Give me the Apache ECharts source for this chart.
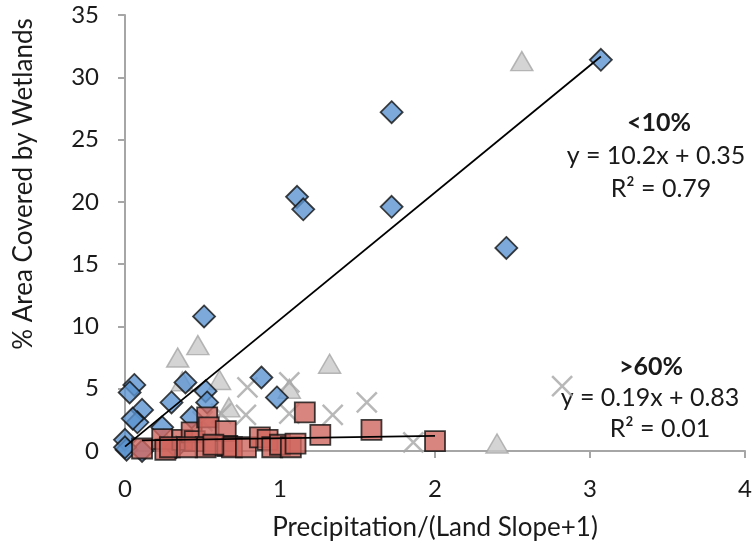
<!DOCTYPE html>
<html>
<head>
<meta charset="utf-8">
<script src="https://cdn.jsdelivr.net/npm/echarts@6/dist/echarts.min.js"></script>
<style>
html,body{margin:0;padding:0;background:#fff;}
#chart{width:755px;height:546px;}
</style>
</head>
<body>
<div id="chart"></div>
<script>
// ---- data ----
var xTicks = [0, 1, 2, 3, 4];
var yTicks = [0, 5, 10, 15, 20, 25, 30, 35];
var xTitle = 'Precipitation/(Land Slope+1)';
var yTitle = '% Area Covered by Wetlands';

// <10% (blue diamonds)
var lowX = [3.07, 1.72, 1.11, 1.15, 1.72, 2.46, 0.51, 0.88, 0.98, 0.39, 0.06, 0.03, 0.52, 0.30, 0.53, 0.11, 0.08, 0.05, 0.43, 0.24, 0.00, 0.01, 0.11, 0.33, 0.00];
var lowY = [31.4, 27.2, 20.4, 19.4, 19.6, 16.3, 10.8, 5.9, 4.3, 5.5, 5.3, 4.7, 4.8, 3.9, 3.9, 3.3, 2.3, 2.6, 2.7, 1.9, 0.9, 0.1, 0.0, 0.3, 0.3];

// >60% (red squares)
var highX = [0.11, 0.24, 0.26, 0.37, 0.43, 0.45, 0.53, 0.54, 0.52, 0.65, 0.66, 0.69, 0.78, 0.87, 0.92, 0.95, 1.00, 1.07, 1.10, 1.16, 1.26, 1.59, 2.00, 0.29, 0.57, 0.40];
var highY = [0.2, 0.95, 0.1, 0.9, 1.5, 0.8, 2.7, 1.9, 0.3, 1.6, 0.4, 0.3, 0.3, 1.1, 0.9, 0.3, 0.5, 0.3, 0.6, 3.1, 1.3, 1.7, 0.8, 0.3, 0.5, 0.3];

// other classes (grey triangles)
var triX = [2.56, 0.47, 0.34, 0.61, 0.67, 1.06, 1.32, 2.40, 0.37, 0.25];
var triY = [31.3, 8.5, 7.5, 5.7, 3.5, 5.0, 7.0, 0.6, 5.6, 1.0];

// other classes (grey crosses)
var crossX = [2.82, 1.86, 1.56, 1.34, 1.06, 0.79, 1.06, 0.78, 0.50, 0.62];
var crossY = [5.2, 0.7, 3.9, 2.9, 5.5, 5.1, 3.0, 2.9, 2.4, 3.0];

// trendline coefficients [slope, intercept]
var lowFit = [10.2, 0.35];
var highFit = [0.19, 0.83];

// labels
var lowLabel = ["<10%", "y = 10.2x + 0.35", "R\u00b2 = 0.79"];
var highLabel = [">60%", "y = 0.19x + 0.83", "R\u00b2 = 0.01"];

// ---- build ----
function zip(xs, ys){ var o=[]; for(var i=0;i<xs.length;i++) o.push([xs[i], ys[i]]); return o; }
function fitLine(xs, c){
  var mn = Math.min.apply(null, xs), mx = Math.max.apply(null, xs);
  return [[mn, c[0]*mn + c[1]], [mx, c[0]*mx + c[1]]];
}

var FONT = 'Lato';
var TXT = '#1a1a1a';
var ANN = 25;

var chart = echarts.init(document.getElementById('chart'), null, {renderer:'canvas'});
chart.setOption({
  animation: false,
  backgroundColor: '#fff',
  textStyle: {fontFamily: FONT},
  grid: {left: 125, right: 5, top: 15, bottom: 95, containLabel: false},
  xAxis: {
    type: 'value', min: xTicks[0], max: xTicks[xTicks.length-1], interval: 1,
    name: xTitle, nameLocation: 'middle', nameGap: 64,
    nameTextStyle: {fontSize: 26, color: TXT, fontFamily: FONT},
    axisLine: {show: true, onZero: false, lineStyle: {color: '#a6a6a6', width: 2}},
    axisTick: {show: true, inside: false, length: 7, lineStyle: {color: '#a6a6a6', width: 2}},
    axisLabel: {fontSize: 24, color: TXT, margin: 26, fontFamily: FONT},
    splitLine: {show: false}
  },
  yAxis: {
    type: 'value', min: yTicks[0], max: yTicks[yTicks.length-1], interval: 5,
    axisLine: {show: true, onZero: false, lineStyle: {color: '#a6a6a6', width: 2}},
    axisTick: {show: true, inside: false, length: 7, lineStyle: {color: '#a6a6a6', width: 2}},
    axisLabel: {fontSize: 24, color: TXT, margin: 26, fontFamily: FONT},
    splitLine: {show: false}
  },
  series: [
    {
      type: 'scatter', name: 'tri', data: zip(triX, triY), symbol: 'triangle', symbolSize: [22, 19],
      itemStyle: {color: '#c9c9c9', borderColor: '#a6a6a6', borderWidth: 1.5},
      emphasis: {disabled: true}, silent: true, z: 2
    },
    {
      type: 'scatter', name: 'cross', data: zip(crossX, crossY), symbol: 'path://M0,0L20,20M20,0L0,20', symbolSize: 20,
      itemStyle: {color: 'rgba(0,0,0,0)', borderColor: '#a6a6a6', borderWidth: 2.5},
      emphasis: {disabled: true}, silent: true, z: 3
    },
    {
      type: 'scatter', name: '<10%', data: zip(lowX, lowY), symbol: 'diamond', symbolSize: 22,
      itemStyle: {color: '#5b93cf', borderColor: '#111', borderWidth: 1.8},
      emphasis: {disabled: true}, silent: true, z: 4
    },
    {
      type: 'scatter', name: '>60%', data: zip(highX, highY), symbol: 'rect', symbolSize: 20,
      itemStyle: {color: '#d0665f', borderColor: '#111', borderWidth: 1.8},
      emphasis: {disabled: true}, silent: true, z: 5
    },
    {
      type: 'line', data: fitLine(lowX, lowFit), symbol: 'none', silent: true, z: 6,
      lineStyle: {color: '#000', width: 1.8}
    },
    {
      type: 'line', data: fitLine(highX, highFit), symbol: 'none', silent: true, z: 6,
      lineStyle: {color: '#000', width: 1.8}
    }
  ],
  graphic: [
    {type: 'text', x: 24, y: 184, rotation: Math.PI/2, style: {text: yTitle, font: '26px ' + FONT, fill: TXT, textAlign: 'center', textVerticalAlign: 'middle'}},
    {type: 'text', x: 659, y: 123, style: {text: lowLabel[0], font: 'bold ' + ANN + 'px ' + FONT, fill: TXT, textAlign: 'center', textVerticalAlign: 'middle'}},
    {type: 'text', x: 656, y: 156, style: {text: lowLabel[1], font: ANN + 'px ' + FONT, fill: TXT, textAlign: 'center', textVerticalAlign: 'middle'}},
    {type: 'text', x: 661, y: 189, style: {text: lowLabel[2], font: ANN + 'px ' + FONT, fill: TXT, textAlign: 'center', textVerticalAlign: 'middle'}},
    {type: 'text', x: 651, y: 367, style: {text: highLabel[0], font: 'bold ' + ANN + 'px ' + FONT, fill: TXT, textAlign: 'center', textVerticalAlign: 'middle'}},
    {type: 'text', x: 650, y: 398, style: {text: highLabel[1], font: ANN + 'px ' + FONT, fill: TXT, textAlign: 'center', textVerticalAlign: 'middle'}},
    {type: 'text', x: 660, y: 429, style: {text: highLabel[2], font: ANN + 'px ' + FONT, fill: TXT, textAlign: 'center', textVerticalAlign: 'middle'}}
  ]
});
</script>
</body>
</html>
